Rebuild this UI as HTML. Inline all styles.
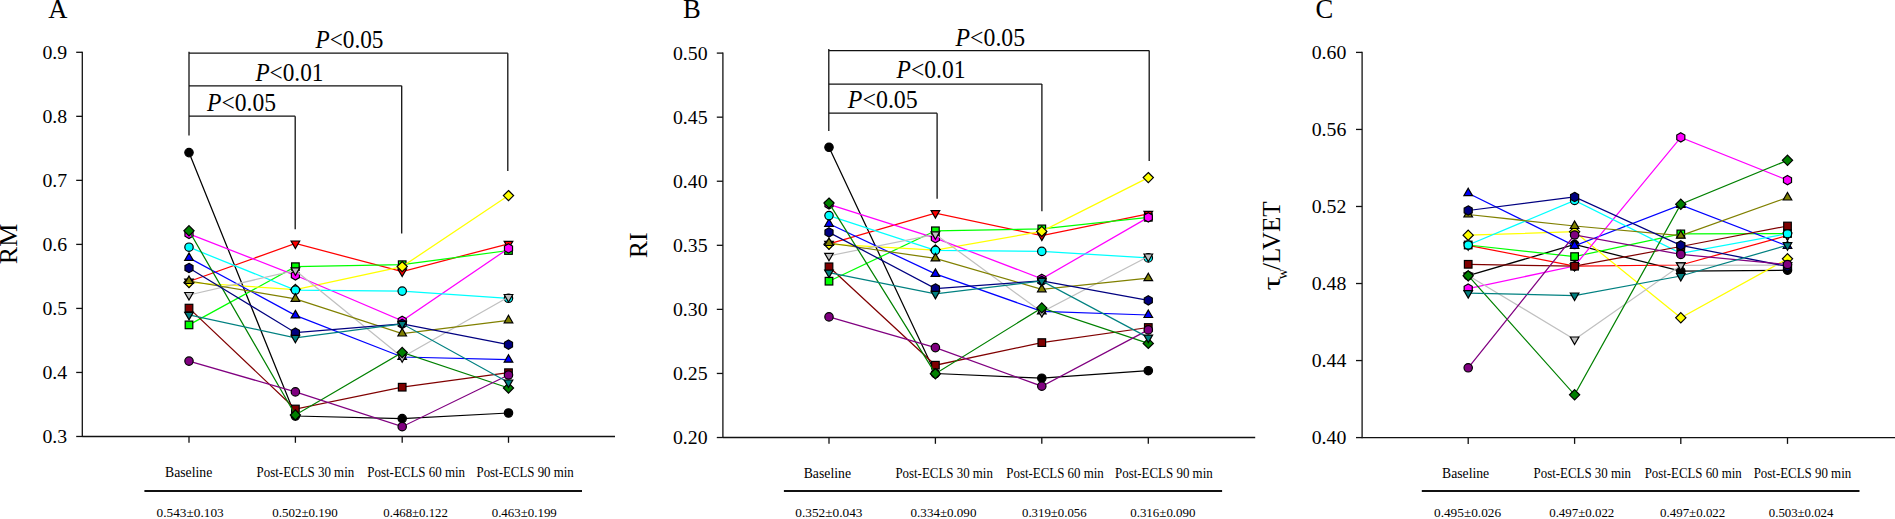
<!DOCTYPE html>
<html><head><meta charset="utf-8"><title>Figure</title>
<style>
html,body{margin:0;padding:0;background:#fff;}
body{width:1895px;height:519px;overflow:hidden;}
svg{display:block;font-family:"Liberation Serif","Times New Roman",serif;fill:#000;}
</style></head><body>
<svg width="1895" height="519" viewBox="0 0 1895 519">
<rect width="1895" height="519" fill="#fff"/>
<text x="48.2" y="17.7" font-size="26.6" text-anchor="start" >A</text>
<line x1="82.3" y1="51.699999999999996" x2="82.3" y2="437.1" stroke="#111" stroke-width="1.3" fill="none"/>
<line x1="82.3" y1="436.5" x2="615" y2="436.5" stroke="#111" stroke-width="1.3" fill="none"/>
<line x1="76.2" y1="52.3" x2="82.3" y2="52.3" stroke="#111" stroke-width="1.3" fill="none"/>
<text x="67.2" y="58.9" font-size="19.8" text-anchor="end" >0.9</text>
<line x1="76.2" y1="116.33" x2="82.3" y2="116.33" stroke="#111" stroke-width="1.3" fill="none"/>
<text x="67.2" y="122.92999999999999" font-size="19.8" text-anchor="end" >0.8</text>
<line x1="76.2" y1="180.36" x2="82.3" y2="180.36" stroke="#111" stroke-width="1.3" fill="none"/>
<text x="67.2" y="186.96" font-size="19.8" text-anchor="end" >0.7</text>
<line x1="76.2" y1="244.39" x2="82.3" y2="244.39" stroke="#111" stroke-width="1.3" fill="none"/>
<text x="67.2" y="250.98999999999998" font-size="19.8" text-anchor="end" >0.6</text>
<line x1="76.2" y1="308.42" x2="82.3" y2="308.42" stroke="#111" stroke-width="1.3" fill="none"/>
<text x="67.2" y="315.02000000000004" font-size="19.8" text-anchor="end" >0.5</text>
<line x1="76.2" y1="372.45" x2="82.3" y2="372.45" stroke="#111" stroke-width="1.3" fill="none"/>
<text x="67.2" y="379.05" font-size="19.8" text-anchor="end" >0.4</text>
<line x1="76.2" y1="436.48" x2="82.3" y2="436.48" stroke="#111" stroke-width="1.3" fill="none"/>
<text x="67.2" y="443.08000000000004" font-size="19.8" text-anchor="end" >0.3</text>
<line x1="189" y1="436.5" x2="189" y2="442.8" stroke="#111" stroke-width="1.3" fill="none"/>
<line x1="295.4" y1="436.5" x2="295.4" y2="442.8" stroke="#111" stroke-width="1.3" fill="none"/>
<line x1="402.2" y1="436.5" x2="402.2" y2="442.8" stroke="#111" stroke-width="1.3" fill="none"/>
<line x1="508.5" y1="436.5" x2="508.5" y2="442.8" stroke="#111" stroke-width="1.3" fill="none"/>
<text transform="translate(17.3,243.9) rotate(-90)" font-size="26" text-anchor="middle">RM</text>
<line x1="189" y1="51.7" x2="189" y2="135.6" stroke="#111" stroke-width="1.3" fill="none"/>
<line x1="189" y1="53.2" x2="507.8" y2="53.2" stroke="#111" stroke-width="1.3" fill="none"/>
<line x1="507.8" y1="53.2" x2="507.8" y2="171" stroke="#111" stroke-width="1.3" fill="none"/>
<line x1="189" y1="85.8" x2="401.7" y2="85.8" stroke="#111" stroke-width="1.3" fill="none"/>
<line x1="401.7" y1="85.8" x2="401.7" y2="233.6" stroke="#111" stroke-width="1.3" fill="none"/>
<line x1="189" y1="116.2" x2="295.2" y2="116.2" stroke="#111" stroke-width="1.3" fill="none"/>
<line x1="295.2" y1="116.2" x2="295.2" y2="229.2" stroke="#111" stroke-width="1.3" fill="none"/>
<text x="315.5" y="48.4" font-size="24.4" textLength="68" lengthAdjust="spacingAndGlyphs"><tspan font-style="italic">P</tspan>&lt;0.05</text>
<text x="255.4" y="80.7" font-size="24.4" textLength="68" lengthAdjust="spacingAndGlyphs"><tspan font-style="italic">P</tspan>&lt;0.01</text>
<text x="207" y="111" font-size="24.4" textLength="69" lengthAdjust="spacingAndGlyphs"><tspan font-style="italic">P</tspan>&lt;0.05</text>
<polyline points="189.0,152.6 295.4,416.0 402.2,418.6 508.5,413.0" fill="none" stroke="#000000" stroke-width="1.25"/>
<circle cx="189.0" cy="152.6" r="4.2" fill="#000000" stroke="#000" stroke-width="1.2"/>
<circle cx="295.4" cy="416.0" r="4.2" fill="#000000" stroke="#000" stroke-width="1.2"/>
<circle cx="402.2" cy="418.6" r="4.2" fill="#000000" stroke="#000" stroke-width="1.2"/>
<circle cx="508.5" cy="413.0" r="4.2" fill="#000000" stroke="#000" stroke-width="1.2"/>
<polyline points="189.0,281.5 295.4,243.5 402.2,271.5 508.5,243.8" fill="none" stroke="#ff0000" stroke-width="1.25"/>
<polygon points="189.00,286.50 193.30,279.00 184.70,279.00" fill="#ff0000" stroke="#000" stroke-width="1.2"/>
<polygon points="295.40,248.50 299.70,241.00 291.10,241.00" fill="#ff0000" stroke="#000" stroke-width="1.2"/>
<polygon points="402.20,276.50 406.50,269.00 397.90,269.00" fill="#ff0000" stroke="#000" stroke-width="1.2"/>
<polygon points="508.50,248.80 512.80,241.30 504.20,241.30" fill="#ff0000" stroke="#000" stroke-width="1.2"/>
<polyline points="189.0,324.9 295.4,266.7 402.2,264.7 508.5,250.5" fill="none" stroke="#00ff00" stroke-width="1.25"/>
<rect x="185.2" y="321.1" width="7.6" height="7.6" fill="#00ff00" stroke="#000" stroke-width="1.2"/>
<rect x="291.6" y="262.9" width="7.6" height="7.6" fill="#00ff00" stroke="#000" stroke-width="1.2"/>
<rect x="398.4" y="260.9" width="7.6" height="7.6" fill="#00ff00" stroke="#000" stroke-width="1.2"/>
<rect x="504.7" y="246.7" width="7.6" height="7.6" fill="#00ff00" stroke="#000" stroke-width="1.2"/>
<polyline points="189.0,282.5 295.4,289.5 402.2,266.6 508.5,195.6" fill="none" stroke="#ffff00" stroke-width="1.25"/>
<polygon points="189.00,277.40 194.10,282.50 189.00,287.60 183.90,282.50" fill="#ffff00" stroke="#000" stroke-width="1.2"/>
<polygon points="295.40,284.40 300.50,289.50 295.40,294.60 290.30,289.50" fill="#ffff00" stroke="#000" stroke-width="1.2"/>
<polygon points="402.20,261.50 407.30,266.60 402.20,271.70 397.10,266.60" fill="#ffff00" stroke="#000" stroke-width="1.2"/>
<polygon points="508.50,190.50 513.60,195.60 508.50,200.70 503.40,195.60" fill="#ffff00" stroke="#000" stroke-width="1.2"/>
<polyline points="189.0,257.9 295.4,315.4 402.2,357.0 508.5,359.7" fill="none" stroke="#0000ff" stroke-width="1.25"/>
<polygon points="189.00,252.90 193.30,260.40 184.70,260.40" fill="#0000ff" stroke="#000" stroke-width="1.2"/>
<polygon points="295.40,310.40 299.70,317.90 291.10,317.90" fill="#0000ff" stroke="#000" stroke-width="1.2"/>
<polygon points="402.20,352.00 406.50,359.50 397.90,359.50" fill="#0000ff" stroke="#000" stroke-width="1.2"/>
<polygon points="508.50,354.70 512.80,362.20 504.20,362.20" fill="#0000ff" stroke="#000" stroke-width="1.2"/>
<polyline points="189.0,233.9 295.4,275.3 402.2,320.8 508.5,248.4" fill="none" stroke="#ff00ff" stroke-width="1.25"/>
<polygon points="189.00,229.25 193.03,231.58 193.03,236.22 189.00,238.55 184.97,236.22 184.97,231.58" fill="#ff00ff" stroke="#000" stroke-width="1.2"/>
<polygon points="295.40,270.65 299.43,272.98 299.43,277.62 295.40,279.95 291.37,277.62 291.37,272.98" fill="#ff00ff" stroke="#000" stroke-width="1.2"/>
<polygon points="402.20,316.15 406.23,318.48 406.23,323.12 402.20,325.45 398.17,323.12 398.17,318.48" fill="#ff00ff" stroke="#000" stroke-width="1.2"/>
<polygon points="508.50,243.75 512.53,246.08 512.53,250.72 508.50,253.05 504.47,250.72 504.47,246.08" fill="#ff00ff" stroke="#000" stroke-width="1.2"/>
<polyline points="189.0,247.2 295.4,290.1 402.2,291.1 508.5,298.3" fill="none" stroke="#00ffff" stroke-width="1.25"/>
<circle cx="189.0" cy="247.2" r="4.2" fill="#00ffff" stroke="#000" stroke-width="1.2"/>
<circle cx="295.4" cy="290.1" r="4.2" fill="#00ffff" stroke="#000" stroke-width="1.2"/>
<circle cx="402.2" cy="291.1" r="4.2" fill="#00ffff" stroke="#000" stroke-width="1.2"/>
<circle cx="508.5" cy="298.3" r="4.2" fill="#00ffff" stroke="#000" stroke-width="1.2"/>
<polyline points="189.0,295.0 295.4,270.4 402.2,357.3 508.5,297.0" fill="none" stroke="#c0c0c0" stroke-width="1.25"/>
<polygon points="189.00,300.00 193.30,292.50 184.70,292.50" fill="#c0c0c0" stroke="#000" stroke-width="1.2"/>
<polygon points="295.40,275.40 299.70,267.90 291.10,267.90" fill="#c0c0c0" stroke="#000" stroke-width="1.2"/>
<polygon points="402.20,362.30 406.50,354.80 397.90,354.80" fill="#c0c0c0" stroke="#000" stroke-width="1.2"/>
<polygon points="508.50,302.00 512.80,294.50 504.20,294.50" fill="#c0c0c0" stroke="#000" stroke-width="1.2"/>
<polyline points="189.0,308.1 295.4,409.0 402.2,387.2 508.5,372.7" fill="none" stroke="#800000" stroke-width="1.25"/>
<rect x="185.2" y="304.3" width="7.6" height="7.6" fill="#800000" stroke="#000" stroke-width="1.2"/>
<rect x="291.6" y="405.2" width="7.6" height="7.6" fill="#800000" stroke="#000" stroke-width="1.2"/>
<rect x="398.4" y="383.4" width="7.6" height="7.6" fill="#800000" stroke="#000" stroke-width="1.2"/>
<rect x="504.7" y="368.9" width="7.6" height="7.6" fill="#800000" stroke="#000" stroke-width="1.2"/>
<polyline points="189.0,230.8 295.4,415.0 402.2,352.5 508.5,388.0" fill="none" stroke="#008000" stroke-width="1.25"/>
<polygon points="189.00,225.70 194.10,230.80 189.00,235.90 183.90,230.80" fill="#008000" stroke="#000" stroke-width="1.2"/>
<polygon points="295.40,409.90 300.50,415.00 295.40,420.10 290.30,415.00" fill="#008000" stroke="#000" stroke-width="1.2"/>
<polygon points="402.20,347.40 407.30,352.50 402.20,357.60 397.10,352.50" fill="#008000" stroke="#000" stroke-width="1.2"/>
<polygon points="508.50,382.90 513.60,388.00 508.50,393.10 503.40,388.00" fill="#008000" stroke="#000" stroke-width="1.2"/>
<polyline points="189.0,281.0 295.4,298.8 402.2,333.5 508.5,320.3" fill="none" stroke="#808000" stroke-width="1.25"/>
<polygon points="189.00,276.00 193.30,283.50 184.70,283.50" fill="#808000" stroke="#000" stroke-width="1.2"/>
<polygon points="295.40,293.80 299.70,301.30 291.10,301.30" fill="#808000" stroke="#000" stroke-width="1.2"/>
<polygon points="402.20,328.50 406.50,336.00 397.90,336.00" fill="#808000" stroke="#000" stroke-width="1.2"/>
<polygon points="508.50,315.30 512.80,322.80 504.20,322.80" fill="#808000" stroke="#000" stroke-width="1.2"/>
<polyline points="189.0,268.0 295.4,332.7 402.2,323.8 508.5,344.6" fill="none" stroke="#000080" stroke-width="1.25"/>
<polygon points="189.00,263.35 193.03,265.68 193.03,270.32 189.00,272.65 184.97,270.32 184.97,265.68" fill="#000080" stroke="#000" stroke-width="1.2"/>
<polygon points="295.40,328.05 299.43,330.38 299.43,335.02 295.40,337.35 291.37,335.02 291.37,330.38" fill="#000080" stroke="#000" stroke-width="1.2"/>
<polygon points="402.20,319.15 406.23,321.48 406.23,326.12 402.20,328.45 398.17,326.12 398.17,321.48" fill="#000080" stroke="#000" stroke-width="1.2"/>
<polygon points="508.50,339.95 512.53,342.28 512.53,346.93 508.50,349.25 504.47,346.93 504.47,342.28" fill="#000080" stroke="#000" stroke-width="1.2"/>
<polyline points="189.0,361.1 295.4,391.9 402.2,426.7 508.5,375.0" fill="none" stroke="#800080" stroke-width="1.25"/>
<circle cx="189.0" cy="361.1" r="4.2" fill="#800080" stroke="#000" stroke-width="1.2"/>
<circle cx="295.4" cy="391.9" r="4.2" fill="#800080" stroke="#000" stroke-width="1.2"/>
<circle cx="402.2" cy="426.7" r="4.2" fill="#800080" stroke="#000" stroke-width="1.2"/>
<circle cx="508.5" cy="375.0" r="4.2" fill="#800080" stroke="#000" stroke-width="1.2"/>
<polyline points="189.0,314.9 295.4,337.8 402.2,323.8 508.5,382.5" fill="none" stroke="#008080" stroke-width="1.25"/>
<polygon points="189.00,319.90 193.30,312.40 184.70,312.40" fill="#008080" stroke="#000" stroke-width="1.2"/>
<polygon points="295.40,342.80 299.70,335.30 291.10,335.30" fill="#008080" stroke="#000" stroke-width="1.2"/>
<polygon points="402.20,328.80 406.50,321.30 397.90,321.30" fill="#008080" stroke="#000" stroke-width="1.2"/>
<polygon points="508.50,387.50 512.80,380.00 504.20,380.00" fill="#008080" stroke="#000" stroke-width="1.2"/>
<text x="165" y="477.3" font-size="14" textLength="47.3" lengthAdjust="spacingAndGlyphs">Baseline</text>
<text x="256.6" y="477.3" font-size="14" textLength="97.6" lengthAdjust="spacingAndGlyphs">Post-ECLS 30 min</text>
<text x="367.3" y="477.3" font-size="14" textLength="97.8" lengthAdjust="spacingAndGlyphs">Post-ECLS 60 min</text>
<text x="476.5" y="477.3" font-size="14" textLength="97.3" lengthAdjust="spacingAndGlyphs">Post-ECLS 90 min</text>
<line x1="144.4" y1="491" x2="582" y2="491" stroke="#111" stroke-width="2.2"/>
<text x="156.6" y="517.3" font-size="13.4" textLength="67.1" lengthAdjust="spacingAndGlyphs">0.543±0.103</text>
<text x="272.3" y="517.3" font-size="13.4" textLength="65.4" lengthAdjust="spacingAndGlyphs">0.502±0.190</text>
<text x="383.3" y="517.3" font-size="13.4" textLength="64.6" lengthAdjust="spacingAndGlyphs">0.468±0.122</text>
<text x="491.7" y="517.3" font-size="13.4" textLength="65.1" lengthAdjust="spacingAndGlyphs">0.463±0.199</text>
<text x="683.0" y="17.7" font-size="26.6" text-anchor="start" >B</text>
<line x1="722.9" y1="52.5" x2="722.9" y2="438.1" stroke="#111" stroke-width="1.3" fill="none"/>
<line x1="722.9" y1="437.5" x2="1255.2" y2="437.5" stroke="#111" stroke-width="1.3" fill="none"/>
<line x1="716.8" y1="53.1" x2="722.9" y2="53.1" stroke="#111" stroke-width="1.3" fill="none"/>
<text x="707.6" y="59.7" font-size="19.8" text-anchor="end" >0.50</text>
<line x1="716.8" y1="117.16999999999999" x2="722.9" y2="117.16999999999999" stroke="#111" stroke-width="1.3" fill="none"/>
<text x="707.6" y="123.76999999999998" font-size="19.8" text-anchor="end" >0.45</text>
<line x1="716.8" y1="181.23999999999998" x2="722.9" y2="181.23999999999998" stroke="#111" stroke-width="1.3" fill="none"/>
<text x="707.6" y="187.83999999999997" font-size="19.8" text-anchor="end" >0.40</text>
<line x1="716.8" y1="245.30999999999997" x2="722.9" y2="245.30999999999997" stroke="#111" stroke-width="1.3" fill="none"/>
<text x="707.6" y="251.90999999999997" font-size="19.8" text-anchor="end" >0.35</text>
<line x1="716.8" y1="309.38" x2="722.9" y2="309.38" stroke="#111" stroke-width="1.3" fill="none"/>
<text x="707.6" y="315.98" font-size="19.8" text-anchor="end" >0.30</text>
<line x1="716.8" y1="373.45" x2="722.9" y2="373.45" stroke="#111" stroke-width="1.3" fill="none"/>
<text x="707.6" y="380.05" font-size="19.8" text-anchor="end" >0.25</text>
<line x1="716.8" y1="437.52" x2="722.9" y2="437.52" stroke="#111" stroke-width="1.3" fill="none"/>
<text x="707.6" y="444.12" font-size="19.8" text-anchor="end" >0.20</text>
<line x1="829" y1="437.5" x2="829" y2="443.8" stroke="#111" stroke-width="1.3" fill="none"/>
<line x1="935.4" y1="437.5" x2="935.4" y2="443.8" stroke="#111" stroke-width="1.3" fill="none"/>
<line x1="1041.8" y1="437.5" x2="1041.8" y2="443.8" stroke="#111" stroke-width="1.3" fill="none"/>
<line x1="1148.3" y1="437.5" x2="1148.3" y2="443.8" stroke="#111" stroke-width="1.3" fill="none"/>
<text transform="translate(647.3,245.3) rotate(-90)" font-size="26" text-anchor="middle">RI</text>
<line x1="828.8" y1="49.1" x2="828.8" y2="131" stroke="#111" stroke-width="1.3" fill="none"/>
<line x1="828.8" y1="50.6" x2="1149.2" y2="50.6" stroke="#111" stroke-width="1.3" fill="none"/>
<line x1="1149.2" y1="50.6" x2="1149.2" y2="161" stroke="#111" stroke-width="1.3" fill="none"/>
<line x1="828.8" y1="84.1" x2="1041.9" y2="84.1" stroke="#111" stroke-width="1.3" fill="none"/>
<line x1="1041.9" y1="84.1" x2="1041.9" y2="211.3" stroke="#111" stroke-width="1.3" fill="none"/>
<line x1="828.8" y1="113.2" x2="937.1" y2="113.2" stroke="#111" stroke-width="1.3" fill="none"/>
<line x1="937.1" y1="113.2" x2="937.1" y2="198.7" stroke="#111" stroke-width="1.3" fill="none"/>
<text x="955.6" y="45.6" font-size="24.4" textLength="69.5" lengthAdjust="spacingAndGlyphs"><tspan font-style="italic">P</tspan>&lt;0.05</text>
<text x="896.5" y="77.9" font-size="24.4" textLength="69" lengthAdjust="spacingAndGlyphs"><tspan font-style="italic">P</tspan>&lt;0.01</text>
<text x="847.8" y="107.8" font-size="24.4" textLength="70" lengthAdjust="spacingAndGlyphs"><tspan font-style="italic">P</tspan>&lt;0.05</text>
<polyline points="829.0,147.3 935.4,373.5 1041.8,378.2 1148.3,370.7" fill="none" stroke="#000000" stroke-width="1.25"/>
<circle cx="829.0" cy="147.3" r="4.2" fill="#000000" stroke="#000" stroke-width="1.2"/>
<circle cx="935.4" cy="373.5" r="4.2" fill="#000000" stroke="#000" stroke-width="1.2"/>
<circle cx="1041.8" cy="378.2" r="4.2" fill="#000000" stroke="#000" stroke-width="1.2"/>
<circle cx="1148.3" cy="370.7" r="4.2" fill="#000000" stroke="#000" stroke-width="1.2"/>
<polyline points="829.0,243.8 935.4,213.1 1041.8,235.6 1148.3,213.8" fill="none" stroke="#ff0000" stroke-width="1.25"/>
<polygon points="829.00,248.80 833.30,241.30 824.70,241.30" fill="#ff0000" stroke="#000" stroke-width="1.2"/>
<polygon points="935.40,218.10 939.70,210.60 931.10,210.60" fill="#ff0000" stroke="#000" stroke-width="1.2"/>
<polygon points="1041.80,240.60 1046.10,233.10 1037.50,233.10" fill="#ff0000" stroke="#000" stroke-width="1.2"/>
<polygon points="1148.30,218.80 1152.60,211.30 1144.00,211.30" fill="#ff0000" stroke="#000" stroke-width="1.2"/>
<polyline points="829.0,281.2 935.4,230.8 1041.8,228.9 1148.3,217.3" fill="none" stroke="#00ff00" stroke-width="1.25"/>
<rect x="825.2" y="277.4" width="7.6" height="7.6" fill="#00ff00" stroke="#000" stroke-width="1.2"/>
<rect x="931.6" y="227.0" width="7.6" height="7.6" fill="#00ff00" stroke="#000" stroke-width="1.2"/>
<rect x="1038.0" y="225.1" width="7.6" height="7.6" fill="#00ff00" stroke="#000" stroke-width="1.2"/>
<rect x="1144.5" y="213.5" width="7.6" height="7.6" fill="#00ff00" stroke="#000" stroke-width="1.2"/>
<polyline points="829.0,244.2 935.4,250.0 1041.8,231.4 1148.3,177.6" fill="none" stroke="#ffff00" stroke-width="1.25"/>
<polygon points="829.00,239.10 834.10,244.20 829.00,249.30 823.90,244.20" fill="#ffff00" stroke="#000" stroke-width="1.2"/>
<polygon points="935.40,244.90 940.50,250.00 935.40,255.10 930.30,250.00" fill="#ffff00" stroke="#000" stroke-width="1.2"/>
<polygon points="1041.80,226.30 1046.90,231.40 1041.80,236.50 1036.70,231.40" fill="#ffff00" stroke="#000" stroke-width="1.2"/>
<polygon points="1148.30,172.50 1153.40,177.60 1148.30,182.70 1143.20,177.60" fill="#ffff00" stroke="#000" stroke-width="1.2"/>
<polyline points="829.0,223.8 935.4,273.9 1041.8,311.4 1148.3,315.0" fill="none" stroke="#0000ff" stroke-width="1.25"/>
<polygon points="829.00,218.80 833.30,226.30 824.70,226.30" fill="#0000ff" stroke="#000" stroke-width="1.2"/>
<polygon points="935.40,268.90 939.70,276.40 931.10,276.40" fill="#0000ff" stroke="#000" stroke-width="1.2"/>
<polygon points="1041.80,306.40 1046.10,313.90 1037.50,313.90" fill="#0000ff" stroke="#000" stroke-width="1.2"/>
<polygon points="1148.30,310.00 1152.60,317.50 1144.00,317.50" fill="#0000ff" stroke="#000" stroke-width="1.2"/>
<polyline points="829.0,204.3 935.4,238.2 1041.8,278.8 1148.3,217.4" fill="none" stroke="#ff00ff" stroke-width="1.25"/>
<polygon points="829.00,199.65 833.03,201.98 833.03,206.62 829.00,208.95 824.97,206.62 824.97,201.98" fill="#ff00ff" stroke="#000" stroke-width="1.2"/>
<polygon points="935.40,233.55 939.43,235.88 939.43,240.52 935.40,242.85 931.37,240.52 931.37,235.88" fill="#ff00ff" stroke="#000" stroke-width="1.2"/>
<polygon points="1041.80,274.15 1045.83,276.48 1045.83,281.12 1041.80,283.45 1037.77,281.12 1037.77,276.48" fill="#ff00ff" stroke="#000" stroke-width="1.2"/>
<polygon points="1148.30,212.75 1152.33,215.08 1152.33,219.72 1148.30,222.05 1144.27,219.72 1144.27,215.08" fill="#ff00ff" stroke="#000" stroke-width="1.2"/>
<polyline points="829.0,215.6 935.4,250.4 1041.8,251.4 1148.3,257.9" fill="none" stroke="#00ffff" stroke-width="1.25"/>
<circle cx="829.0" cy="215.6" r="4.2" fill="#00ffff" stroke="#000" stroke-width="1.2"/>
<circle cx="935.4" cy="250.4" r="4.2" fill="#00ffff" stroke="#000" stroke-width="1.2"/>
<circle cx="1041.8" cy="251.4" r="4.2" fill="#00ffff" stroke="#000" stroke-width="1.2"/>
<circle cx="1148.3" cy="257.9" r="4.2" fill="#00ffff" stroke="#000" stroke-width="1.2"/>
<polyline points="829.0,255.8 935.4,234.3 1041.8,312.1 1148.3,256.5" fill="none" stroke="#c0c0c0" stroke-width="1.25"/>
<polygon points="829.00,260.80 833.30,253.30 824.70,253.30" fill="#c0c0c0" stroke="#000" stroke-width="1.2"/>
<polygon points="935.40,239.30 939.70,231.80 931.10,231.80" fill="#c0c0c0" stroke="#000" stroke-width="1.2"/>
<polygon points="1041.80,317.10 1046.10,309.60 1037.50,309.60" fill="#c0c0c0" stroke="#000" stroke-width="1.2"/>
<polygon points="1148.30,261.50 1152.60,254.00 1144.00,254.00" fill="#c0c0c0" stroke="#000" stroke-width="1.2"/>
<polyline points="829.0,266.8 935.4,365.2 1041.8,342.6 1148.3,327.5" fill="none" stroke="#800000" stroke-width="1.25"/>
<rect x="825.2" y="263.0" width="7.6" height="7.6" fill="#800000" stroke="#000" stroke-width="1.2"/>
<rect x="931.6" y="361.4" width="7.6" height="7.6" fill="#800000" stroke="#000" stroke-width="1.2"/>
<rect x="1038.0" y="338.8" width="7.6" height="7.6" fill="#800000" stroke="#000" stroke-width="1.2"/>
<rect x="1144.5" y="323.7" width="7.6" height="7.6" fill="#800000" stroke="#000" stroke-width="1.2"/>
<polyline points="829.0,203.1 935.4,373.7 1041.8,307.9 1148.3,343.4" fill="none" stroke="#008000" stroke-width="1.25"/>
<polygon points="829.00,198.00 834.10,203.10 829.00,208.20 823.90,203.10" fill="#008000" stroke="#000" stroke-width="1.2"/>
<polygon points="935.40,368.60 940.50,373.70 935.40,378.80 930.30,373.70" fill="#008000" stroke="#000" stroke-width="1.2"/>
<polygon points="1041.80,302.80 1046.90,307.90 1041.80,313.00 1036.70,307.90" fill="#008000" stroke="#000" stroke-width="1.2"/>
<polygon points="1148.30,338.30 1153.40,343.40 1148.30,348.50 1143.20,343.40" fill="#008000" stroke="#000" stroke-width="1.2"/>
<polyline points="829.0,243.0 935.4,258.4 1041.8,289.3 1148.3,278.2" fill="none" stroke="#808000" stroke-width="1.25"/>
<polygon points="829.00,238.00 833.30,245.50 824.70,245.50" fill="#808000" stroke="#000" stroke-width="1.2"/>
<polygon points="935.40,253.40 939.70,260.90 931.10,260.90" fill="#808000" stroke="#000" stroke-width="1.2"/>
<polygon points="1041.80,284.30 1046.10,291.80 1037.50,291.80" fill="#808000" stroke="#000" stroke-width="1.2"/>
<polygon points="1148.30,273.20 1152.60,280.70 1144.00,280.70" fill="#808000" stroke="#000" stroke-width="1.2"/>
<polyline points="829.0,232.4 935.4,288.5 1041.8,280.9 1148.3,300.3" fill="none" stroke="#000080" stroke-width="1.25"/>
<polygon points="829.00,227.75 833.03,230.08 833.03,234.72 829.00,237.05 824.97,234.72 824.97,230.08" fill="#000080" stroke="#000" stroke-width="1.2"/>
<polygon points="935.40,283.85 939.43,286.18 939.43,290.82 935.40,293.15 931.37,290.82 931.37,286.18" fill="#000080" stroke="#000" stroke-width="1.2"/>
<polygon points="1041.80,276.25 1045.83,278.57 1045.83,283.22 1041.80,285.55 1037.77,283.22 1037.77,278.57" fill="#000080" stroke="#000" stroke-width="1.2"/>
<polygon points="1148.30,295.65 1152.33,297.98 1152.33,302.62 1148.30,304.95 1144.27,302.62 1144.27,297.98" fill="#000080" stroke="#000" stroke-width="1.2"/>
<polyline points="829.0,316.9 935.4,347.6 1041.8,386.2 1148.3,329.9" fill="none" stroke="#800080" stroke-width="1.25"/>
<circle cx="829.0" cy="316.9" r="4.2" fill="#800080" stroke="#000" stroke-width="1.2"/>
<circle cx="935.4" cy="347.6" r="4.2" fill="#800080" stroke="#000" stroke-width="1.2"/>
<circle cx="1041.8" cy="386.2" r="4.2" fill="#800080" stroke="#000" stroke-width="1.2"/>
<circle cx="1148.3" cy="329.9" r="4.2" fill="#800080" stroke="#000" stroke-width="1.2"/>
<polyline points="829.0,272.6 935.4,293.9 1041.8,280.9 1148.3,337.6" fill="none" stroke="#008080" stroke-width="1.25"/>
<polygon points="829.00,277.60 833.30,270.10 824.70,270.10" fill="#008080" stroke="#000" stroke-width="1.2"/>
<polygon points="935.40,298.90 939.70,291.40 931.10,291.40" fill="#008080" stroke="#000" stroke-width="1.2"/>
<polygon points="1041.80,285.90 1046.10,278.40 1037.50,278.40" fill="#008080" stroke="#000" stroke-width="1.2"/>
<polygon points="1148.30,342.60 1152.60,335.10 1144.00,335.10" fill="#008080" stroke="#000" stroke-width="1.2"/>
<text x="803.7" y="477.6" font-size="14" textLength="47.3" lengthAdjust="spacingAndGlyphs">Baseline</text>
<text x="895.4" y="477.6" font-size="14" textLength="97.5" lengthAdjust="spacingAndGlyphs">Post-ECLS 30 min</text>
<text x="1006.3" y="477.6" font-size="14" textLength="97.5" lengthAdjust="spacingAndGlyphs">Post-ECLS 60 min</text>
<text x="1115" y="477.6" font-size="14" textLength="97.7" lengthAdjust="spacingAndGlyphs">Post-ECLS 90 min</text>
<line x1="783.9" y1="491" x2="1222.1" y2="491" stroke="#111" stroke-width="2.2"/>
<text x="795.3" y="517.3" font-size="13.4" textLength="67.2" lengthAdjust="spacingAndGlyphs">0.352±0.043</text>
<text x="910.6" y="517.3" font-size="13.4" textLength="65.8" lengthAdjust="spacingAndGlyphs">0.334±0.090</text>
<text x="1022" y="517.3" font-size="13.4" textLength="64.6" lengthAdjust="spacingAndGlyphs">0.319±0.056</text>
<text x="1130.2" y="517.3" font-size="13.4" textLength="65.3" lengthAdjust="spacingAndGlyphs">0.316±0.090</text>
<text x="1315.6" y="17.7" font-size="26.6" text-anchor="start" >C</text>
<line x1="1362.1" y1="51.8" x2="1362.1" y2="438.20000000000005" stroke="#111" stroke-width="1.3" fill="none"/>
<line x1="1362.1" y1="437.6" x2="1896" y2="437.6" stroke="#111" stroke-width="1.3" fill="none"/>
<line x1="1356.0" y1="52.4" x2="1362.1" y2="52.4" stroke="#111" stroke-width="1.3" fill="none"/>
<text x="1346.3" y="59.0" font-size="19.8" text-anchor="end" >0.60</text>
<line x1="1356.0" y1="129.44" x2="1362.1" y2="129.44" stroke="#111" stroke-width="1.3" fill="none"/>
<text x="1346.3" y="136.04" font-size="19.8" text-anchor="end" >0.56</text>
<line x1="1356.0" y1="206.48000000000002" x2="1362.1" y2="206.48000000000002" stroke="#111" stroke-width="1.3" fill="none"/>
<text x="1346.3" y="213.08" font-size="19.8" text-anchor="end" >0.52</text>
<line x1="1356.0" y1="283.52" x2="1362.1" y2="283.52" stroke="#111" stroke-width="1.3" fill="none"/>
<text x="1346.3" y="290.12" font-size="19.8" text-anchor="end" >0.48</text>
<line x1="1356.0" y1="360.56" x2="1362.1" y2="360.56" stroke="#111" stroke-width="1.3" fill="none"/>
<text x="1346.3" y="367.16" font-size="19.8" text-anchor="end" >0.44</text>
<line x1="1356.0" y1="437.6" x2="1362.1" y2="437.6" stroke="#111" stroke-width="1.3" fill="none"/>
<text x="1346.3" y="444.20000000000005" font-size="19.8" text-anchor="end" >0.40</text>
<line x1="1468.2" y1="437.6" x2="1468.2" y2="443.90000000000003" stroke="#111" stroke-width="1.3" fill="none"/>
<line x1="1574.6" y1="437.6" x2="1574.6" y2="443.90000000000003" stroke="#111" stroke-width="1.3" fill="none"/>
<line x1="1680.8" y1="437.6" x2="1680.8" y2="443.90000000000003" stroke="#111" stroke-width="1.3" fill="none"/>
<line x1="1787.5" y1="437.6" x2="1787.5" y2="443.90000000000003" stroke="#111" stroke-width="1.3" fill="none"/>
<g transform="translate(1280,289.6) rotate(-90)"><text x="-1.0" y="0" font-size="26" textLength="14" lengthAdjust="spacingAndGlyphs">τ</text><text x="10.4" y="6.6" font-size="15.5" textLength="10.4" lengthAdjust="spacingAndGlyphs">w</text><text x="19.6" y="0" font-size="26" textLength="68.6" lengthAdjust="spacingAndGlyphs">/LVET</text></g>
<polyline points="1468.2,275.7 1574.6,244.5 1680.8,271.2 1787.5,270.2" fill="none" stroke="#000000" stroke-width="1.25"/>
<circle cx="1468.2" cy="275.7" r="4.2" fill="#000000" stroke="#000" stroke-width="1.2"/>
<circle cx="1574.6" cy="244.5" r="4.2" fill="#000000" stroke="#000" stroke-width="1.2"/>
<circle cx="1680.8" cy="271.2" r="4.2" fill="#000000" stroke="#000" stroke-width="1.2"/>
<circle cx="1787.5" cy="270.2" r="4.2" fill="#000000" stroke="#000" stroke-width="1.2"/>
<polyline points="1468.2,245.3 1574.6,266.0 1680.8,265.0 1787.5,235.5" fill="none" stroke="#ff0000" stroke-width="1.25"/>
<polygon points="1468.20,250.30 1472.50,242.80 1463.90,242.80" fill="#ff0000" stroke="#000" stroke-width="1.2"/>
<polygon points="1574.60,271.00 1578.90,263.50 1570.30,263.50" fill="#ff0000" stroke="#000" stroke-width="1.2"/>
<polygon points="1680.80,270.00 1685.10,262.50 1676.50,262.50" fill="#ff0000" stroke="#000" stroke-width="1.2"/>
<polygon points="1787.50,240.50 1791.80,233.00 1783.20,233.00" fill="#ff0000" stroke="#000" stroke-width="1.2"/>
<polyline points="1468.2,245.0 1574.6,256.6 1680.8,233.9 1787.5,233.5" fill="none" stroke="#00ff00" stroke-width="1.25"/>
<rect x="1464.4" y="241.2" width="7.6" height="7.6" fill="#00ff00" stroke="#000" stroke-width="1.2"/>
<rect x="1570.8" y="252.8" width="7.6" height="7.6" fill="#00ff00" stroke="#000" stroke-width="1.2"/>
<rect x="1677.0" y="230.1" width="7.6" height="7.6" fill="#00ff00" stroke="#000" stroke-width="1.2"/>
<rect x="1783.7" y="229.7" width="7.6" height="7.6" fill="#00ff00" stroke="#000" stroke-width="1.2"/>
<polyline points="1468.2,235.2 1574.6,231.7 1680.8,317.8 1787.5,258.8" fill="none" stroke="#ffff00" stroke-width="1.25"/>
<polygon points="1468.20,230.10 1473.30,235.20 1468.20,240.30 1463.10,235.20" fill="#ffff00" stroke="#000" stroke-width="1.2"/>
<polygon points="1574.60,226.60 1579.70,231.70 1574.60,236.80 1569.50,231.70" fill="#ffff00" stroke="#000" stroke-width="1.2"/>
<polygon points="1680.80,312.70 1685.90,317.80 1680.80,322.90 1675.70,317.80" fill="#ffff00" stroke="#000" stroke-width="1.2"/>
<polygon points="1787.50,253.70 1792.60,258.80 1787.50,263.90 1782.40,258.80" fill="#ffff00" stroke="#000" stroke-width="1.2"/>
<polyline points="1468.2,193.2 1574.6,245.8 1680.8,205.0 1787.5,246.0" fill="none" stroke="#0000ff" stroke-width="1.25"/>
<polygon points="1468.20,188.20 1472.50,195.70 1463.90,195.70" fill="#0000ff" stroke="#000" stroke-width="1.2"/>
<polygon points="1574.60,240.80 1578.90,248.30 1570.30,248.30" fill="#0000ff" stroke="#000" stroke-width="1.2"/>
<polygon points="1680.80,200.00 1685.10,207.50 1676.50,207.50" fill="#0000ff" stroke="#000" stroke-width="1.2"/>
<polygon points="1787.50,241.00 1791.80,248.50 1783.20,248.50" fill="#0000ff" stroke="#000" stroke-width="1.2"/>
<polyline points="1468.2,288.6 1574.6,266.0 1680.8,137.4 1787.5,180.1" fill="none" stroke="#ff00ff" stroke-width="1.25"/>
<polygon points="1468.20,283.95 1472.23,286.28 1472.23,290.93 1468.20,293.25 1464.17,290.93 1464.17,286.28" fill="#ff00ff" stroke="#000" stroke-width="1.2"/>
<polygon points="1574.60,261.35 1578.63,263.68 1578.63,268.32 1574.60,270.65 1570.57,268.32 1570.57,263.68" fill="#ff00ff" stroke="#000" stroke-width="1.2"/>
<polygon points="1680.80,132.75 1684.83,135.08 1684.83,139.72 1680.80,142.05 1676.77,139.72 1676.77,135.08" fill="#ff00ff" stroke="#000" stroke-width="1.2"/>
<polygon points="1787.50,175.45 1791.53,177.78 1791.53,182.42 1787.50,184.75 1783.47,182.42 1783.47,177.78" fill="#ff00ff" stroke="#000" stroke-width="1.2"/>
<polyline points="1468.2,245.0 1574.6,200.4 1680.8,253.3 1787.5,233.7" fill="none" stroke="#00ffff" stroke-width="1.25"/>
<circle cx="1468.2" cy="245.0" r="4.2" fill="#00ffff" stroke="#000" stroke-width="1.2"/>
<circle cx="1574.6" cy="200.4" r="4.2" fill="#00ffff" stroke="#000" stroke-width="1.2"/>
<circle cx="1680.8" cy="253.3" r="4.2" fill="#00ffff" stroke="#000" stroke-width="1.2"/>
<circle cx="1787.5" cy="233.7" r="4.2" fill="#00ffff" stroke="#000" stroke-width="1.2"/>
<polyline points="1468.2,275.5 1574.6,339.5 1680.8,265.3 1787.5,265.0" fill="none" stroke="#c0c0c0" stroke-width="1.25"/>
<polygon points="1468.20,280.50 1472.50,273.00 1463.90,273.00" fill="#c0c0c0" stroke="#000" stroke-width="1.2"/>
<polygon points="1574.60,344.50 1578.90,337.00 1570.30,337.00" fill="#c0c0c0" stroke="#000" stroke-width="1.2"/>
<polygon points="1680.80,270.30 1685.10,262.80 1676.50,262.80" fill="#c0c0c0" stroke="#000" stroke-width="1.2"/>
<polygon points="1787.50,270.00 1791.80,262.50 1783.20,262.50" fill="#c0c0c0" stroke="#000" stroke-width="1.2"/>
<polyline points="1468.2,264.3 1574.6,266.2 1680.8,246.5 1787.5,226.0" fill="none" stroke="#800000" stroke-width="1.25"/>
<rect x="1464.4" y="260.5" width="7.6" height="7.6" fill="#800000" stroke="#000" stroke-width="1.2"/>
<rect x="1570.8" y="262.4" width="7.6" height="7.6" fill="#800000" stroke="#000" stroke-width="1.2"/>
<rect x="1677.0" y="242.7" width="7.6" height="7.6" fill="#800000" stroke="#000" stroke-width="1.2"/>
<rect x="1783.7" y="222.2" width="7.6" height="7.6" fill="#800000" stroke="#000" stroke-width="1.2"/>
<polyline points="1468.2,275.7 1574.6,394.8 1680.8,204.2 1787.5,160.3" fill="none" stroke="#008000" stroke-width="1.25"/>
<polygon points="1468.20,270.60 1473.30,275.70 1468.20,280.80 1463.10,275.70" fill="#008000" stroke="#000" stroke-width="1.2"/>
<polygon points="1574.60,389.70 1579.70,394.80 1574.60,399.90 1569.50,394.80" fill="#008000" stroke="#000" stroke-width="1.2"/>
<polygon points="1680.80,199.10 1685.90,204.20 1680.80,209.30 1675.70,204.20" fill="#008000" stroke="#000" stroke-width="1.2"/>
<polygon points="1787.50,155.20 1792.60,160.30 1787.50,165.40 1782.40,160.30" fill="#008000" stroke="#000" stroke-width="1.2"/>
<polyline points="1468.2,214.5 1574.6,226.0 1680.8,235.7 1787.5,197.5" fill="none" stroke="#808000" stroke-width="1.25"/>
<polygon points="1468.20,209.50 1472.50,217.00 1463.90,217.00" fill="#808000" stroke="#000" stroke-width="1.2"/>
<polygon points="1574.60,221.00 1578.90,228.50 1570.30,228.50" fill="#808000" stroke="#000" stroke-width="1.2"/>
<polygon points="1680.80,230.70 1685.10,238.20 1676.50,238.20" fill="#808000" stroke="#000" stroke-width="1.2"/>
<polygon points="1787.50,192.50 1791.80,200.00 1783.20,200.00" fill="#808000" stroke="#000" stroke-width="1.2"/>
<polyline points="1468.2,210.5 1574.6,197.0 1680.8,245.3 1787.5,266.5" fill="none" stroke="#000080" stroke-width="1.25"/>
<polygon points="1468.20,205.85 1472.23,208.18 1472.23,212.82 1468.20,215.15 1464.17,212.82 1464.17,208.18" fill="#000080" stroke="#000" stroke-width="1.2"/>
<polygon points="1574.60,192.35 1578.63,194.68 1578.63,199.32 1574.60,201.65 1570.57,199.32 1570.57,194.68" fill="#000080" stroke="#000" stroke-width="1.2"/>
<polygon points="1680.80,240.65 1684.83,242.98 1684.83,247.62 1680.80,249.95 1676.77,247.62 1676.77,242.98" fill="#000080" stroke="#000" stroke-width="1.2"/>
<polygon points="1787.50,261.85 1791.53,264.18 1791.53,268.82 1787.50,271.15 1783.47,268.82 1783.47,264.18" fill="#000080" stroke="#000" stroke-width="1.2"/>
<polyline points="1468.2,367.8 1574.6,235.0 1680.8,254.4 1787.5,264.5" fill="none" stroke="#800080" stroke-width="1.25"/>
<circle cx="1468.2" cy="367.8" r="4.2" fill="#800080" stroke="#000" stroke-width="1.2"/>
<circle cx="1574.6" cy="235.0" r="4.2" fill="#800080" stroke="#000" stroke-width="1.2"/>
<circle cx="1680.8" cy="254.4" r="4.2" fill="#800080" stroke="#000" stroke-width="1.2"/>
<circle cx="1787.5" cy="264.5" r="4.2" fill="#800080" stroke="#000" stroke-width="1.2"/>
<polyline points="1468.2,293.1 1574.6,295.5 1680.8,276.0 1787.5,245.2" fill="none" stroke="#008080" stroke-width="1.25"/>
<polygon points="1468.20,298.10 1472.50,290.60 1463.90,290.60" fill="#008080" stroke="#000" stroke-width="1.2"/>
<polygon points="1574.60,300.50 1578.90,293.00 1570.30,293.00" fill="#008080" stroke="#000" stroke-width="1.2"/>
<polygon points="1680.80,281.00 1685.10,273.50 1676.50,273.50" fill="#008080" stroke="#000" stroke-width="1.2"/>
<polygon points="1787.50,250.20 1791.80,242.70 1783.20,242.70" fill="#008080" stroke="#000" stroke-width="1.2"/>
<text x="1442.1" y="477.6" font-size="14" textLength="47.1" lengthAdjust="spacingAndGlyphs">Baseline</text>
<text x="1533.5" y="477.6" font-size="14" textLength="97.5" lengthAdjust="spacingAndGlyphs">Post-ECLS 30 min</text>
<text x="1644.7" y="477.6" font-size="14" textLength="97.0" lengthAdjust="spacingAndGlyphs">Post-ECLS 60 min</text>
<text x="1753.7" y="477.6" font-size="14" textLength="97.5" lengthAdjust="spacingAndGlyphs">Post-ECLS 90 min</text>
<line x1="1421.8" y1="491" x2="1859.5" y2="491" stroke="#111" stroke-width="2.2"/>
<text x="1434" y="517.3" font-size="13.4" textLength="67.1" lengthAdjust="spacingAndGlyphs">0.495±0.026</text>
<text x="1549.2" y="517.3" font-size="13.4" textLength="65.1" lengthAdjust="spacingAndGlyphs">0.497±0.022</text>
<text x="1660" y="517.3" font-size="13.4" textLength="65.3" lengthAdjust="spacingAndGlyphs">0.497±0.022</text>
<text x="1768.8" y="517.3" font-size="13.4" textLength="64.6" lengthAdjust="spacingAndGlyphs">0.503±0.024</text>
</svg>
</body></html>
